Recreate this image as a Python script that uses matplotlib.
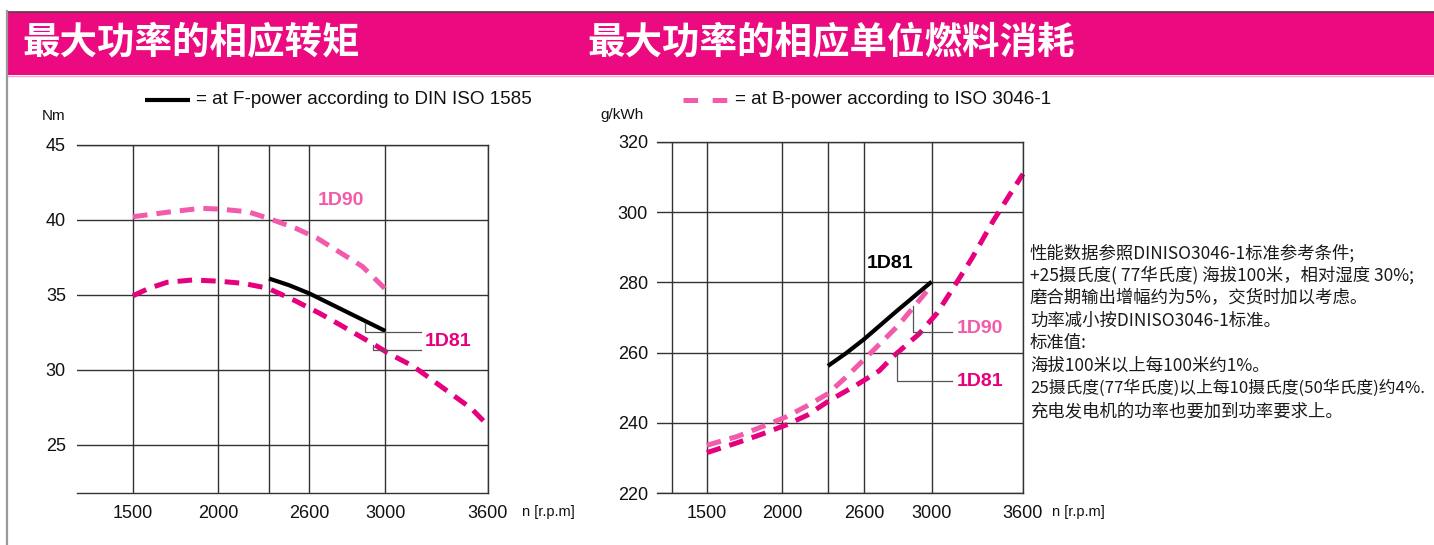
import numpy as np
import matplotlib
matplotlib.use("Agg")
import matplotlib.pyplot as plt
from matplotlib.lines import Line2D
from matplotlib.patches import Rectangle

plt.rcParams['font.family'] = ['Liberation Sans', 'Noto Sans CJK SC', 'DejaVu Sans']
plt.rcParams['lines.scale_dashes'] = False

# ---------------- data ----------------
titles = ['最大功率的相应转矩', '最大功率的相应单位燃料消耗']
legend_left = '= at F-power according to DIN ISO 1585'
legend_right = '= at B-power according to ISO 3046-1'
notes = [
    '性能数据参照DINISO3046-1标准参考条件;',
    '+25摄氏度( 77华氏度) 海拔100米，相对湿度 30%;',
    '磨合期输出增幅约为5%，交货时加以考虑。',
    '功率减小按DINISO3046-1标准。',
    '标准值:',
    '海拔100米以上每100米约1%。',
    '25摄氏度(77华氏度)以上每10摄氏度(50华氏度)约4%.',
    '充电发电机的功率也要加到功率要求上。',
]

rpm_ticks = [1500, 2000, 2300, 2600, 3000, 3600]
rpm_tick_labels = ['1500', '2000', '', '2600', '3000', '3600']
rpm_extra_grid_right = [1270]
torque_ticks = [25, 30, 35, 40, 45]
bsfc_ticks = [220, 240, 260, 280, 300, 320]

# torque, Nm
tq_1d90_rpm = [1500, 1726, 1899, 2018, 2176, 2300, 2498, 2642, 2753, 2879, 3000]
tq_1d90 = [40.22, 40.55, 40.78, 40.72, 40.55, 40.1, 39.45, 38.78, 37.9, 36.9, 35.4]
tq_1d81_rpm = [1500, 1595, 1702, 1851, 2006, 2147, 2294, 2498, 2658, 2763, 2947, 3012, 3163, 3344, 3501, 3600]
tq_1d81 = [34.95, 35.45, 35.85, 36.0, 35.92, 35.78, 35.45, 34.6, 33.75, 33.0, 31.65, 31.15, 30.25, 28.75, 27.45, 26.3]
tq_1d81_f_rpm = [2300, 2450, 2600, 2800, 3000]
tq_1d81_f = [36.1, 35.65, 35.1, 33.85, 32.6]

# specific fuel consumption, g/kWh
be_1d81_rpm = [1500, 1700, 1860, 2025, 2165, 2315, 2530, 2690, 2775, 2925, 3035, 3150, 3265, 3400, 3510, 3600]
be_1d81 = [231.5, 234.3, 236.7, 239.4, 242.2, 246.4, 250.6, 254.8, 259.0, 265.3, 271.2, 279.0, 286.9, 297.2, 304.8, 310.9]
be_1d90_rpm = [1500, 1700, 1860, 2025, 2165, 2300, 2450, 2600, 2800, 3000]
be_1d90 = [233.6, 236.1, 238.8, 241.7, 244.9, 248.3, 253.0, 258.0, 267.6, 279.1]
be_1d81_f_rpm = [2300, 2450, 2600, 2790, 3000]
be_1d81_f = [256.2, 259.8, 263.8, 271.7, 280.2]

# ---------------- styling ----------------
W, H = 1434, 545
DARK = '#e6007e'
LIGHT = '#f25aab'
GRID = '#333333'
BAR = '#eb0a80'
DASH = (10.5, 6.5)

# non-uniform rpm axis of the original chart
_rpm_anchor = [1000, 1500, 2000, 2300, 2600, 3000, 3600, 4200]
_pos_anchor = [-0.239, 0.0, 0.239, 0.383, 0.497, 0.711, 1.0, 1.289]


def fwd(x):
    return np.interp(x, _rpm_anchor, _pos_anchor)


def inv(p):
    return np.interp(p, _pos_anchor, _rpm_anchor)


def fx(px):
    return px / W


def fy(py):
    return 1 - py / H


fig = plt.figure(figsize=(W / 100, H / 100), dpi=100)

# header bar and frame
fig.add_artist(Rectangle((fx(8), fy(75)), 1 - fx(8), fy(12) - fy(75), transform=fig.transFigure,
                         facecolor=BAR, edgecolor='none'))
fig.add_artist(Line2D([fx(8), 1], [fy(11.5), fy(11.5)], transform=fig.transFigure, color='#5a3a48', lw=1.2))
fig.add_artist(Line2D([fx(8), 1], [fy(75.5), fy(75.5)], transform=fig.transFigure, color='#f7a6cd', lw=1.0))
fig.add_artist(Line2D([fx(7), fx(7)], [fy(11), 0], transform=fig.transFigure, color='#9a9a9a', lw=1.6))
fig.text(fx(22), fy(43), titles[0], color='white', fontsize=27, fontweight='bold',
         family=['Noto Sans CJK SC'], va='center', ha='left')
fig.text(fx(587), fy(43), titles[1], color='white', fontsize=27, fontweight='bold',
         family=['Noto Sans CJK SC'], va='center', ha='left')


def setup(ax, yticks, ylim, pad_y, extra=()):
    ax.set_xscale('function', functions=(fwd, inv))
    ax.set_xlim(1170, 3600)
    ax.set_ylim(*ylim)
    ax.set_xticks(rpm_ticks)
    ax.set_xticklabels(rpm_tick_labels)
    ax.set_yticks(yticks)
    ax.tick_params(length=0, labelsize=13, colors='#111111')
    ax.tick_params(axis='x', pad=9)
    ax.tick_params(axis='y', pad=pad_y)
    ax.grid(True, color=GRID, lw=1.0)
    for x in extra:
        ax.axvline(x, color=GRID, lw=1.0)
    for s in ['top', 'bottom', 'right']:
        ax.spines[s].set_color(GRID)
        ax.spines[s].set_linewidth(1.0)
    ax.spines['left'].set_visible(False)
    ax.set_facecolor('none')


# ---------------- left: torque ----------------
ax1 = fig.add_axes([fx(77), 1 - 493 / H, 411 / W, 348 / H])
setup(ax1, torque_ticks, (21.8, 45), 8)
ax1.plot(tq_1d90_rpm, tq_1d90, color=LIGHT, lw=3.6, dashes=DASH, dash_capstyle='butt')
ax1.plot(tq_1d81_rpm, tq_1d81, color=DARK, lw=3.6, dashes=DASH, dash_capstyle='butt')
ax1.plot(tq_1d81_f_rpm, tq_1d81_f, color='black', lw=3.0, solid_capstyle='butt')
ax1.text(2643, 41.33, '1D90', color=LIGHT, fontsize=14, fontweight='bold', va='center', ha='left')
ax1.text(3231, 31.9, '1D81', color=DARK, fontsize=14, fontweight='bold', va='center', ha='left')
ax1.plot([2892, 2892, 3206], [33.1, 32.5, 32.5], color='#555555', lw=0.9)
ax1.plot([2933, 2933, 3206], [31.67, 31.33, 31.33], color='#555555', lw=0.9)

# ---------------- right: fuel consumption ----------------
ax2 = fig.add_axes([fx(657), 1 - 493 / H, 366 / W, 351 / H])
setup(ax2, bsfc_ticks, (220, 320), 6.5, extra=rpm_extra_grid_right)
ax2.plot(be_1d90_rpm, be_1d90, color=LIGHT, lw=3.6, dashes=DASH, dash_capstyle='butt')
ax2.plot(be_1d81_rpm, be_1d81, color=DARK, lw=3.6, dashes=DASH, dash_capstyle='butt', clip_on=False)
ax2.plot(be_1d81_f_rpm, be_1d81_f, color='black', lw=3.0, solid_capstyle='butt')
ax2.text(2615, 285.3, '1D81', color='black', fontsize=14, fontweight='bold', va='center', ha='left')
ax2.text(3166, 266.8, '1D90', color=LIGHT, fontsize=14, fontweight='bold', va='center', ha='left')
ax2.text(3166, 251.9, '1D81', color=DARK, fontsize=14, fontweight='bold', va='center', ha='left')
ax2.plot([2888, 2888, 3133], [273.2, 265.9, 265.9], color='#555555', lw=0.9)
ax2.plot([2793, 2793, 3133], [260.3, 251.9, 251.9], color='#555555', lw=0.9)

# axis captions
fig.text(fx(42), fy(116), 'Nm', fontsize=11, color='#111111', va='center', ha='left')
fig.text(fx(600), fy(115), 'g/kWh', fontsize=11, color='#111111', va='center', ha='left')
fig.text(fx(522), fy(512), 'n [r.p.m]', fontsize=10.5, color='#111111', va='center', ha='left')
fig.text(fx(1052), fy(512), 'n [r.p.m]', fontsize=10.5, color='#111111', va='center', ha='left')

# legends
fig.add_artist(Line2D([fx(145), fx(190)], [fy(100), fy(100)], transform=fig.transFigure,
                      color='black', lw=3.0, solid_capstyle='butt'))
fig.text(fx(196), fy(100), legend_left, fontsize=13.6, color='#111111', va='center', ha='left')
fig.add_artist(Line2D([fx(683), fx(728)], [fy(100), fy(100)], transform=fig.transFigure,
                      color=LIGHT, lw=3.6, dashes=(10.5, 10.5), dash_capstyle='butt'))
fig.text(fx(735), fy(100), legend_right, fontsize=13.6, color='#111111', va='center', ha='left')

# notes
for i, line in enumerate(notes):
    fs = 12.1 if len(line) > 30 and i == 6 else 12.5
    fig.text(fx(1030), fy(253 + 22.6 * i), line, fontsize=fs, color='#1a1a1a',
             family=['Noto Sans CJK SC', 'DejaVu Sans'], va='center', ha='left')

fig.savefig('out.png', dpi=100)
